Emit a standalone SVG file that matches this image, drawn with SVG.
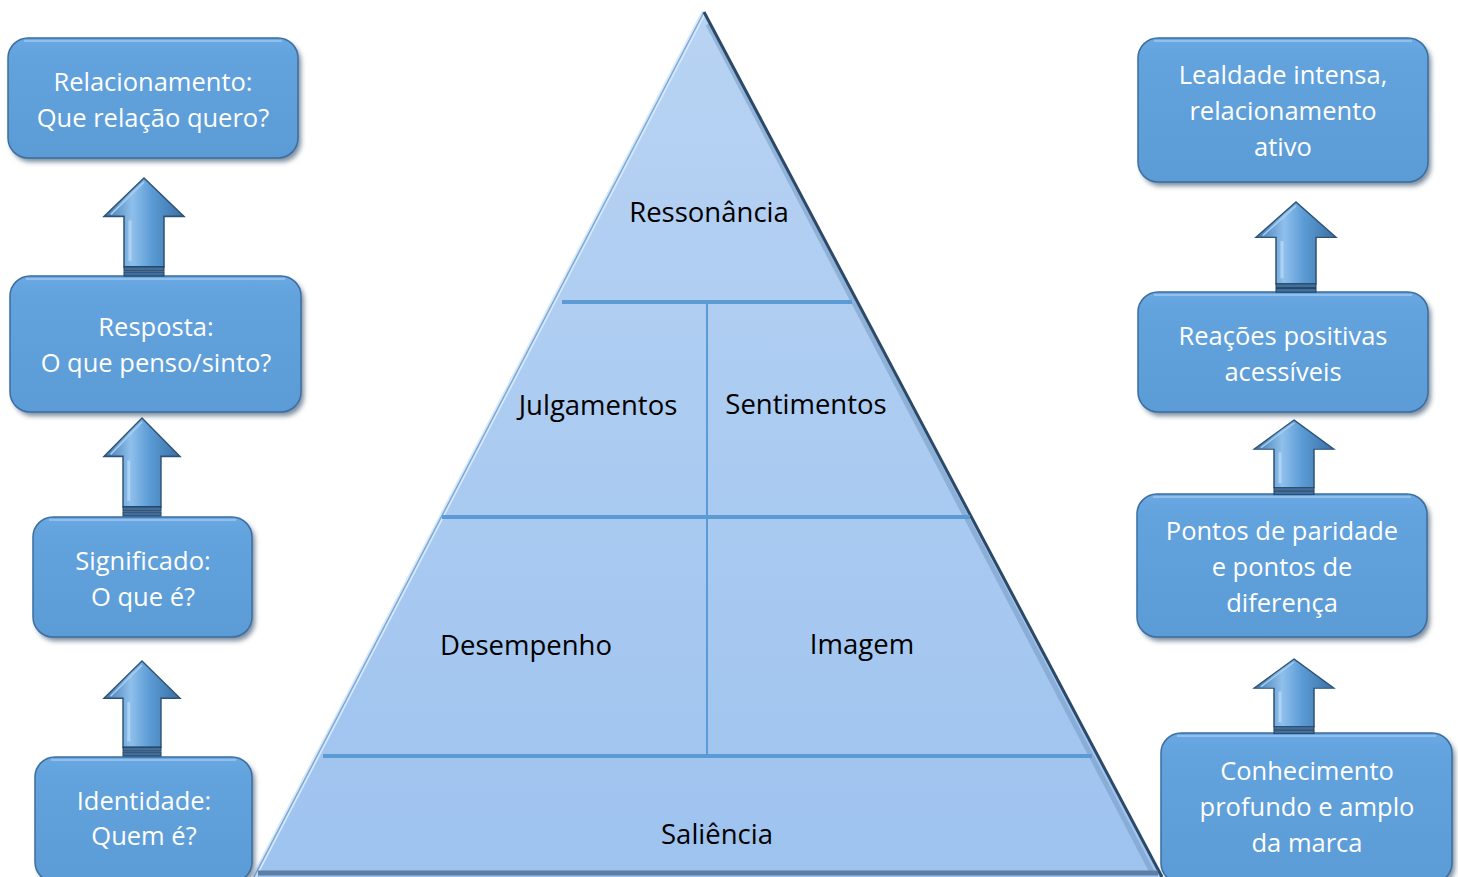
<svg xmlns="http://www.w3.org/2000/svg" width="1458" height="877" viewBox="0 0 1458 877">
  <defs>
    <style>
      .box { fill: url(#boxFill); stroke: #3c6e9f; stroke-width: 1.5; }
      .boxShade { fill: #22415f; opacity: 0.6; filter: url(#soft); }
      .boxHi { fill: none; stroke: #9cc6ee; stroke-width: 2; opacity: 0.8; }
      .lbl { font-family: "Open Sans", "Liberation Sans", sans-serif; font-size: 25.5px; fill: #ffffff; text-anchor: middle; }
      .plbl { font-family: "Open Sans", "Liberation Sans", sans-serif; font-size: 27.5px; fill: #000000; text-anchor: middle; }
      .div { stroke: #5b9bd5; stroke-width: 4; fill: none; }
      .vdiv { stroke: #5b9bd5; stroke-width: 2; fill: none; }
      .arrow { fill: url(#arrowFill); stroke: #2d5377; stroke-width: 1.5; }
      .arrowBase { fill: #3e6f9e; stroke: #223f5c; stroke-width: 1; }
    </style>
    <linearGradient id="boxFill" x1="0" y1="0" x2="0" y2="1">
      <stop offset="0" stop-color="#6aa9e3"/>
      <stop offset="0.15" stop-color="#62a2dd"/>
      <stop offset="1" stop-color="#5b9bd6"/>
    </linearGradient>
    <linearGradient id="pyrFill" x1="0" y1="0" x2="0" y2="1">
      <stop offset="0" stop-color="#b8d3f3"/>
      <stop offset="1" stop-color="#9ec3ef"/>
    </linearGradient>
    <linearGradient id="arrowFill" x1="0" y1="0" x2="1" y2="0">
      <stop offset="0" stop-color="#3f76ad"/>
      <stop offset="0.35" stop-color="#8fc0ec"/>
      <stop offset="0.6" stop-color="#5b9bd5"/>
      <stop offset="1" stop-color="#3a6fa3"/>
    </linearGradient>
    <filter id="soft" x="-10%" y="-10%" width="120%" height="130%">
      <feGaussianBlur stdDeviation="2.5"/>
    </filter>
    <!-- block arrow pointing up, tip at origin, 80 wide, 96 tall -->
    <g id="upArrow">
      <path class="arrow" d="M0,0 L40,38 L20,38 L20,88 L-20,88 L-20,38 L-40,38 Z"/>
      <path d="M0,4 L-33,36" stroke="#a9d0f3" stroke-width="1.5" fill="none"/>
      <path d="M-14,42 L-14,82" stroke="#b6d8f6" stroke-width="3" fill="none" opacity="0.8"/>
      <rect class="arrowBase" x="-20" y="88" width="40" height="4"/>
      <rect class="arrowBase" x="-20" y="93" width="40" height="4"/>
    </g>
  </defs>

  <rect width="1458" height="877" fill="#ffffff"/>

  <!-- pyramid -->
  <g id="pyramid">
    <polygon points="704,12 254,877 1162,877" fill="url(#pyrFill)"/>
    <path d="M704,12 L254,877" stroke="#d6e8fb" stroke-width="5" fill="none"/>
    <path d="M704,12 L254,877" stroke="#7ea8d4" stroke-width="1.5" fill="none"/>
    <path d="M708,24 L1152,872" stroke="#6f96be" stroke-width="5" fill="none" opacity="0.5"/>
    <path d="M704,12 L1162,877" stroke="#2c4a68" stroke-width="3" fill="none"/>
    <path d="M258,873 L1158,873" stroke="#5c7fa3" stroke-width="5" fill="none"/>
    <line class="div" x1="562" y1="302" x2="852" y2="302"/>
    <line class="div" x1="442" y1="517" x2="970" y2="517"/>
    <line class="div" x1="323" y1="756" x2="1092" y2="756"/>
    <line class="vdiv" x1="707" y1="304" x2="707" y2="754"/>
  </g>

  <g id="ressonancia"><text class="plbl" x="709" y="222">Ressonância</text></g>
  <g id="julgamentos"><text class="plbl" x="598" y="415">Julgamentos</text></g>
  <g id="sentimentos"><text class="plbl" x="806" y="414">Sentimentos</text></g>
  <g id="desempenho"><text class="plbl" x="526" y="655">Desempenho</text></g>
  <g id="imagem"><text class="plbl" x="862" y="654">Imagem</text></g>
  <g id="saliencia"><text class="plbl" x="717" y="844">Saliência</text></g>

  <!-- left column -->
  <g id="relacionamento">
    <rect class="boxShade" x="11" y="42" width="290" height="120" rx="20"/>
    <rect class="box" x="8" y="38" width="290" height="120" rx="20"/>
    <path class="boxHi" d="M24,41 L282,41"/>
    <text class="lbl" x="153" y="91">Relacionamento:</text>
    <text class="lbl" x="153" y="127">Que relação quero?</text>
  </g>
  <g id="resposta">
    <rect class="boxShade" x="13" y="280" width="291" height="136" rx="20"/>
    <rect class="box" x="10" y="276" width="291" height="136" rx="20"/>
    <path class="boxHi" d="M26,279 L285,279"/>
    <text class="lbl" x="156" y="336">Resposta:</text>
    <text class="lbl" x="156" y="372">O que penso/sinto?</text>
  </g>
  <g id="significado">
    <rect class="boxShade" x="36" y="521" width="219" height="120" rx="20"/>
    <rect class="box" x="33" y="517" width="219" height="120" rx="20"/>
    <path class="boxHi" d="M49,520 L236,520"/>
    <text class="lbl" x="143" y="570">Significado:</text>
    <text class="lbl" x="143" y="606">O que é?</text>
  </g>
  <g id="identidade">
    <rect class="boxShade" x="38" y="761" width="217" height="125" rx="20"/>
    <rect class="box" x="35" y="757" width="217" height="125" rx="20"/>
    <path class="boxHi" d="M51,760 L236,760"/>
    <text class="lbl" x="144" y="810">Identidade:</text>
    <text class="lbl" x="144" y="845">Quem é?</text>
  </g>

  <!-- right column -->
  <g id="lealdade">
    <rect class="boxShade" x="1141" y="42" width="290" height="144" rx="20"/>
    <rect class="box" x="1138" y="38" width="290" height="144" rx="20"/>
    <path class="boxHi" d="M1154,41 L1412,41"/>
    <text class="lbl" x="1283" y="84">Lealdade intensa,</text>
    <text class="lbl" x="1283" y="120">relacionamento</text>
    <text class="lbl" x="1283" y="156">ativo</text>
  </g>
  <g id="reacoes">
    <rect class="boxShade" x="1141" y="296" width="290" height="120" rx="20"/>
    <rect class="box" x="1138" y="292" width="290" height="120" rx="20"/>
    <path class="boxHi" d="M1154,295 L1412,295"/>
    <text class="lbl" x="1283" y="345">Reações positivas</text>
    <text class="lbl" x="1283" y="381">acessíveis</text>
  </g>
  <g id="pontos">
    <rect class="boxShade" x="1140" y="498" width="290" height="143" rx="20"/>
    <rect class="box" x="1137" y="494" width="290" height="143" rx="20"/>
    <path class="boxHi" d="M1153,497 L1411,497"/>
    <text class="lbl" x="1282" y="540">Pontos de paridade</text>
    <text class="lbl" x="1282" y="576">e pontos de</text>
    <text class="lbl" x="1282" y="612">diferença</text>
  </g>
  <g id="conhecimento">
    <rect class="boxShade" x="1164" y="737" width="291" height="150" rx="20"/>
    <rect class="box" x="1161" y="733" width="291" height="150" rx="20"/>
    <path class="boxHi" d="M1177,736 L1436,736"/>
    <text class="lbl" x="1307" y="780">Conhecimento</text>
    <text class="lbl" x="1307" y="816">profundo e amplo</text>
    <text class="lbl" x="1307" y="852">da marca</text>
  </g>

  <!-- connectors: upward block arrows between stacked boxes -->
  <g id="connectors">
    <use href="#upArrow" transform="translate(144,178) scale(1,1.01)"/>
    <use href="#upArrow" transform="translate(142,418) scale(0.95,1.01)"/>
    <use href="#upArrow" transform="translate(142,661) scale(0.95,0.98)"/>
    <use href="#upArrow" transform="translate(1296,202) scale(1,0.93)"/>
    <use href="#upArrow" transform="translate(1294,420) scale(1,0.77)"/>
    <use href="#upArrow" transform="translate(1294,659) scale(1,0.77)"/>
  </g>
</svg>
